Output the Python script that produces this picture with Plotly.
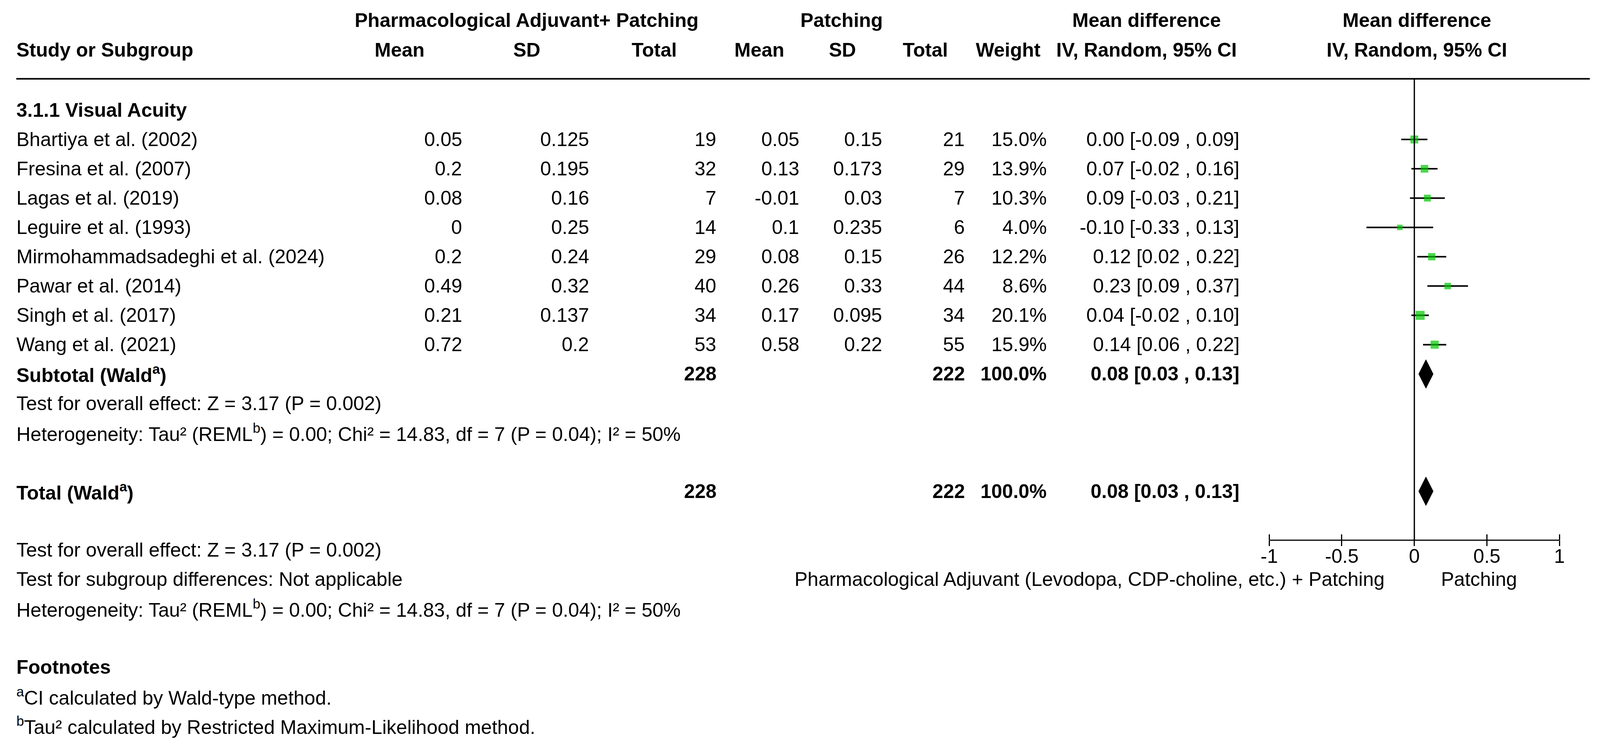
import plotly.graph_objects as go

# design space = reference size; the page fills the browser viewport
W, H = 4332, 1915
FONT = "Liberation Sans, Arial, Helvetica, sans-serif"
FS = 50

studies = [
    "Bhartiya et al. (2002)",
    "Fresina et al. (2007)",
    "Lagas et al. (2019)",
    "Leguire et al. (1993)",
    "Mirmohammadsadeghi et al. (2024)",
    "Pawar et al. (2014)",
    "Singh et al. (2017)",
    "Wang et al. (2021)",
]
exp_mean = [0.05, 0.2, 0.08, 0, 0.2, 0.49, 0.21, 0.72]
exp_sd = [0.125, 0.195, 0.16, 0.25, 0.24, 0.32, 0.137, 0.2]
exp_n = [19, 32, 7, 14, 29, 40, 34, 53]
ctl_mean = [0.05, 0.13, -0.01, 0.1, 0.08, 0.26, 0.17, 0.58]
ctl_sd = [0.15, 0.173, 0.03, 0.235, 0.15, 0.33, 0.095, 0.22]
ctl_n = [21, 29, 7, 6, 26, 44, 34, 55]
weight = [15.0, 13.9, 10.3, 4.0, 12.2, 8.6, 20.1, 15.9]
md = [0.00, 0.07, 0.09, -0.10, 0.12, 0.23, 0.04, 0.14]
md_lo = [-0.09, -0.02, -0.03, -0.33, 0.02, 0.09, -0.02, 0.06]
md_hi = [0.09, 0.16, 0.21, 0.13, 0.22, 0.37, 0.10, 0.22]

pooled = 0.08
pooled_lo = 0.03
pooled_hi = 0.13
exp_total = 228
ctl_total = 222

tick_vals = [-1, -0.5, 0, 0.5, 1]
tick_text = ["-1", "-0.5", "0", "0.5", "1"]

# row geometry (rows are 75 px apart, row 0 = subgroup heading)
ROW0, ROWH = 282, 75.05
def row_px(r):
    return ROW0 + ROWH * r

study_rows = list(range(1, len(studies) + 1))
SUB_ROW, TOT_ROW = 9, 13
AXIS_ROW = 14.67

fig = go.Figure()

# study squares with CI whiskers
fig.add_trace(go.Scatter(
    x=md, y=study_rows, mode="markers",
    marker=dict(symbol="square", color="#00c800",
                size=[11.8 + 0.56 * w for w in weight], line_width=0),
    error_x=dict(type="data", symmetric=False,
                 array=[h - m for h, m in zip(md_hi, md)],
                 arrayminus=[m - l for m, l in zip(md, md_lo)],
                 color="black", thickness=4, width=0),
    cliponaxis=False, hoverinfo="skip", showlegend=False,
))

# pooled diamonds (on the twin axis that carries the lower tick halves)
for r in (SUB_ROW, TOT_ROW):
    fig.add_trace(go.Scatter(
        x=[pooled_lo, pooled, pooled_hi, pooled, pooled_lo],
        y=[r, r - 0.49, r, r + 0.49, r], xaxis="x2",
        mode="lines", fill="toself", fillcolor="black",
        line=dict(color="black", width=1),
        cliponaxis=False, hoverinfo="skip", showlegend=False,
    ))

def label(xpx, r, text, anchor="right", bold=False):
    if bold:
        text = f"<b>{text}</b>"
    fig.add_annotation(x=xpx / W, xref="paper", y=r, yref="y",
                       text=text, showarrow=False, xanchor=anchor,
                       yanchor="middle", font=dict(family=FONT, size=FS, color="black"))

LEFT = 20
# headers
label(1415, -3.06, "Pharmacological Adjuvant+ Patching", "center", True)
label(2275, -3.06, "Patching", "center", True)
label(3107, -3.06, "Mean difference", "center", True)
label(3845, -3.06, "Mean difference", "center", True)
for xpx, t, a in [
    (LEFT, "Study or Subgroup", "left"),
    (1068, "Mean", "center"), (1415, "SD", "center"), (1764, "Total", "center"),
    (2050, "Mean", "center"), (2277, "SD", "center"), (2503, "Total", "center"),
    (2730, "Weight", "center"), (3107, "IV, Random, 95% CI", "center"),
    (3845, "IV, Random, 95% CI", "center"),
]:
    label(xpx, -2.05, t, a, True)

label(LEFT, 0, "3.1.1 Visual Acuity", "left", True)

cols = [1241, 1588, 1935, 2161, 2387, 2613, 2837, 3363]
for i, r in enumerate(study_rows):
    label(LEFT, r, studies[i], "left")
    vals = [f"{exp_mean[i]:g}", f"{exp_sd[i]:g}", f"{exp_n[i]}",
            f"{ctl_mean[i]:g}", f"{ctl_sd[i]:g}", f"{ctl_n[i]}",
            f"{weight[i]:.1f}%",
            f"{md[i]:.2f} [{md_lo[i]:.2f} , {md_hi[i]:.2f}]"]
    for xpx, v in zip(cols, vals):
        label(xpx, r, v)

ci_pooled = f"{pooled:.2f} [{pooled_lo:.2f} , {pooled_hi:.2f}]"
for r, name in [(SUB_ROW, "Subtotal (Wald<sup>a</sup>)"), (TOT_ROW, "Total (Wald<sup>a</sup>)")]:
    label(LEFT, r, name, "left", True)
    label(cols[2], r, str(exp_total), bold=True)
    label(cols[5], r, str(ctl_total), bold=True)
    label(cols[6], r, "100.0%", bold=True)
    label(cols[7], r, ci_pooled, bold=True)

overall = "Test for overall effect: Z = 3.17 (P = 0.002)"
het = "Heterogeneity: Tau² (REML<sup>b</sup>) = 0.00; Chi² = 14.83, df = 7 (P = 0.04); I² = 50%"
label(LEFT, 10, overall, "left")
label(LEFT, 11, het, "left")
label(LEFT, 15, overall, "left")
label(LEFT, 16, "Test for subgroup differences: Not applicable", "left")
label(LEFT, 17, het, "left")
label(LEFT, 19, "Footnotes", "left", True)
label(LEFT, 20, "<sup>a</sup>CI calculated by Wald-type method.", "left")
label(LEFT, 21, "<sup>b</sup>Tau² calculated by Restricted Maximum-Likelihood method.", "left")

label(3759, 16, "Pharmacological Adjuvant (Levodopa, CDP-choline, etc.) + Patching", "right")
label(4015, 16, "Patching", "center")

# header rule and zero line
fig.add_shape(type="line", xref="paper", yref="y", x0=22 / W, x1=4317 / W,
              y0=-1.07, y1=-1.07, line=dict(color="black", width=4))
fig.add_shape(type="line", xref="x", yref="y", x0=0, x1=0, y0=-1.07, y1=AXIS_ROW,
              line=dict(color="black", width=3.3))

# forest axis: 0 at 3838 px, 396 px per unit; range padded a hair so the
# end ticks at -1 and 1 are still drawn
ZERO_PX, UNIT_PX, XR = 3838, 396, 1.004
x_dom = [(ZERO_PX - UNIT_PX * XR) / W, (ZERO_PX + UNIT_PX * XR) / W]
axis_pos = 1 - row_px(AXIS_ROW) / H
fig.update_layout(
    autosize=True,
    margin=dict(l=0, r=0, t=0, b=0, pad=0),
    paper_bgcolor="white", plot_bgcolor="white",
    font=dict(family=FONT, size=FS, color="black"),
    xaxis=dict(domain=x_dom, range=[-XR, XR],
               anchor="free", position=axis_pos,
               showgrid=False, zeroline=False, showline=False,
               ticks="inside", ticklen=15, tickwidth=2.7, tickcolor="black",
               tickvals=tick_vals, ticktext=tick_text, ticklabelstandoff=7,
               tickfont=dict(family=FONT, size=FS, color="black")),
    # twin axis: lower halves of the crossing ticks
    xaxis2=dict(overlaying="x", matches="x", range=[-XR, XR],
                anchor="free", position=axis_pos, side="top",
                showgrid=False, zeroline=False, showline=False,
                ticks="inside", ticklen=14, tickwidth=2.7, tickcolor="black",
                tickvals=tick_vals, showticklabels=False),
    yaxis=dict(domain=[0, 1], range=[(H - ROW0) / ROWH, -ROW0 / ROWH],
               visible=False),
)
# axis line from -1 to 1
fig.add_shape(type="line", xref="x", yref="y", x0=tick_vals[0], x1=tick_vals[-1],
              y0=AXIS_ROW, y1=AXIS_ROW, line=dict(color="black", width=3))

fit_page = (
    "document.body.style.margin='0';"
    "document.body.style.overflow='hidden';"
    "Plotly.Plots.resize(document.getElementById('{plot_id}'));"
)
fig.write_html("out.html", default_width="100vw", default_height="100vh",
               config={"displayModeBar": False}, post_script=fit_page)
